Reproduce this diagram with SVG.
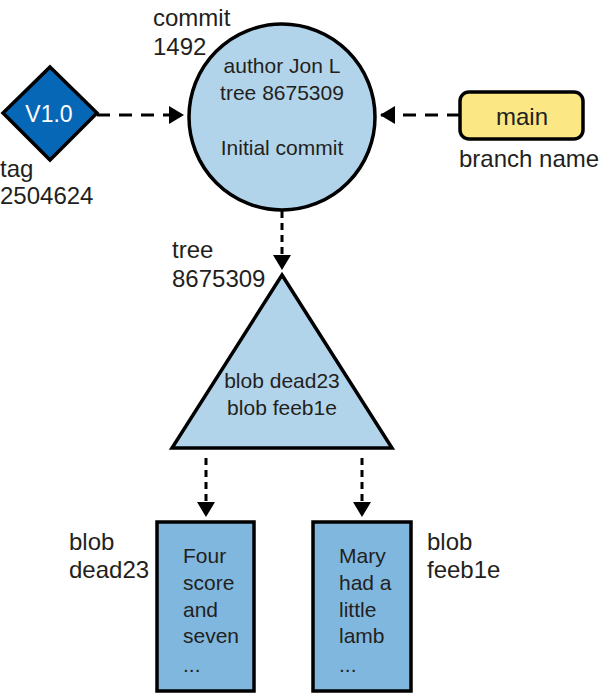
<svg xmlns="http://www.w3.org/2000/svg" width="600" height="693" viewBox="0 0 600 693">
<style>
text{font-family:"Liberation Sans",Arial,sans-serif;fill:#231f20}
.lbl{font-size:24px}
.in{font-size:21px}
.conn{stroke:#000;stroke-width:3;fill:none}
.h{stroke-dasharray:13 9}
.v{stroke-dasharray:7 5}
.shape{stroke:#000;stroke-width:3.5}
</style>
<defs>
<marker id="ah" markerWidth="6" markerHeight="6" refX="5" refY="3" orient="auto" markerUnits="strokeWidth">
<path d="M0,0 L5,3 L0,6 Z" fill="#000"/>
</marker>
</defs>
<rect width="600" height="693" fill="#fff"/>
<g id="connectors">
<path class="conn h" d="M97,115 H184" marker-end="url(#ah)"/>
<path class="conn h" d="M460,115 H380" marker-end="url(#ah)"/>
<path class="conn v" d="M282,211 V270" marker-end="url(#ah)"/>
<path class="conn v" d="M206,458 V517" marker-end="url(#ah)"/>
<path class="conn v" d="M362,458 V517" marker-end="url(#ah)"/>
</g>
<g id="tag">
<polygon class="shape" points="50,67 97,113 50,160 3,113" fill="#0767b7"/>
<text x="49" y="122" text-anchor="middle" style="fill:#fff;font-size:23px">V1.0</text>
<text class="lbl" x="0" y="177">tag</text>
<text class="lbl" x="0" y="204">2504624</text>
</g>
<g id="commit">
<circle class="shape" cx="282" cy="117" r="93" fill="#b2d4ea"/>
<text class="lbl" x="153" y="26">commit</text>
<text class="lbl" x="153" y="55">1492</text>
<text class="in" x="282" y="73" text-anchor="middle">author Jon L</text>
<text class="in" x="282" y="100" text-anchor="middle">tree 8675309</text>
<text class="in" x="282" y="155" text-anchor="middle">Initial commit</text>
</g>
<g id="main">
<rect class="shape" x="460" y="92" width="123" height="47" rx="9" fill="#fbe885"/>
<text class="lbl" x="522" y="125" text-anchor="middle">main</text>
<text class="lbl" x="459" y="167">branch name</text>
</g>
<g id="tree">
<polygon class="shape" points="282,275 392,448 172,448" fill="#b2d4ea"/>
<text class="lbl" x="172" y="258">tree</text>
<text class="lbl" x="172" y="287">8675309</text>
<text class="in" x="282" y="388" text-anchor="middle">blob dead23</text>
<text class="in" x="282" y="415" text-anchor="middle">blob feeb1e</text>
</g>
<g id="blob-dead23">
<rect class="shape" x="157" y="522" width="97" height="169" fill="#80b7de"/>
<text class="lbl" x="69" y="550">blob</text>
<text class="lbl" x="69" y="578">dead23</text>
<text class="in" x="183" y="563">Four</text>
<text class="in" x="183" y="590">score</text>
<text class="in" x="183" y="617">and</text>
<text class="in" x="183" y="643">seven</text>
<text class="in" x="183" y="672">...</text>
</g>
<g id="blob-feeb1e">
<rect class="shape" x="313" y="522" width="98" height="169" fill="#80b7de"/>
<text class="lbl" x="427" y="550">blob</text>
<text class="lbl" x="427" y="578">feeb1e</text>
<text class="in" x="339" y="563">Mary</text>
<text class="in" x="339" y="590">had a</text>
<text class="in" x="339" y="617">little</text>
<text class="in" x="339" y="643">lamb</text>
<text class="in" x="339" y="672">...</text>
</g>
</svg>
